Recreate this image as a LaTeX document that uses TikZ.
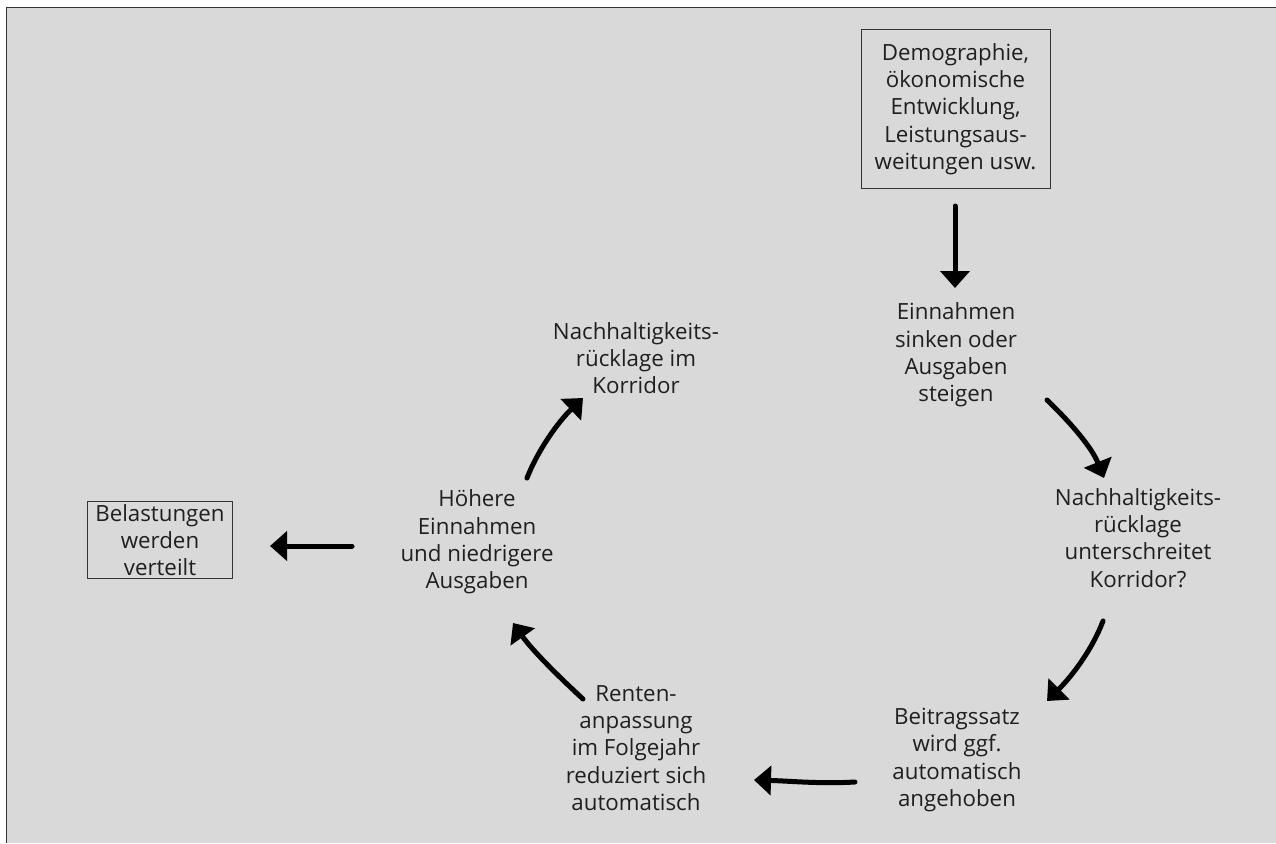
\documentclass[tikz,border=0pt]{standalone}
\usepackage{fontspec}
\setmainfont{Open Sans}
\usetikzlibrary{arrows.meta}
\definecolor{bggray}{HTML}{D9D9D9}
\definecolor{framegray}{HTML}{333333}
\tikzset{
  txt/.style={align=center, inner sep=0pt, font=\fontsize{22.3}{27.3}\selectfont, text=black!88},
  boxed/.style={txt, draw=black!80, line width=1pt},
  flow/.style={line width=5pt, line cap=round, -{Triangle[length=17pt,width=29pt]}},
}
\begin{document}
\begin{tikzpicture}[x=1pt,y=-1pt]
\useasboundingbox (0,0) rectangle (1276,843);
\fill[bggray] (6.5,7.5) rectangle (1276,843);
\draw[framegray, line width=1.6pt] (6.5,843) -- (6.5,7.5) -- (1276,7.5);
% nodes
\node[boxed, minimum width=189pt, minimum height=158pt] (demo) at (955.5,109) {Demographie,\\ökonomische\\Entwicklung,\\Leistungsaus-\\weitungen usw.};
\node[txt] (einn) at (956,355) {Einnahmen\\sinken oder\\Ausgaben\\steigen};
\node[txt] (unter) at (1138,538) {Nachhaltigkeits-\\rücklage\\unterschreitet\\Korridor?};
\node[txt] (beitrag) at (957,760) {Beitragssatz\\wird ggf.\\automatisch\\angehoben};
\node[txt] (rente) at (636,748) {Renten-\\anpassung\\im Folgejahr\\reduziert sich\\automatisch};
\node[txt] (hoeher) at (477,542) {Höhere\\Einnahmen\\und niedrigere\\Ausgaben};
\node[txt] (korr) at (636,358) {Nachhaltigkeits-\\rücklage im\\Korridor};
\node[boxed, inner xsep=8pt, minimum height=77pt] (belast) at (160,540) {Belastungen\\werden\\verteilt};
% arrow end points
\coordinate (a1s) at (955,206);
\coordinate (a1e) at (955,288);
\coordinate (a2s) at (1047,400);
\coordinate (a2e) at (1104,478);
\coordinate (a3s) at (1103,621);
\coordinate (a3e) at (1047,701);
\coordinate (a4s) at (855,782);
\coordinate (a4e) at (754,780);
\coordinate (a5s) at (583,699);
\coordinate (a5e) at (513,623);
\coordinate (a6s) at (527,478);
\coordinate (a6e) at (583,398);
\coordinate (a7s) at (352,546);
\coordinate (a7e) at (270,546);
% connectors
\draw[flow] (a1s) -- (a1e);
\draw[flow] (a2s) .. controls (1072,424) and (1092,448) .. (a2e);
\draw[flow] (a3s) .. controls (1092,650) and (1072,676) .. (a3e);
\draw[flow] (a4s) .. controls (820,784) and (790,781) .. (a4e);
\draw[flow] (a5s) .. controls (558,676) and (532,650) .. (a5e);
\draw[flow] (a6s) .. controls (538,450) and (558,422) .. (a6e);
\draw[flow] (a7s) -- (a7e);
\end{tikzpicture}
\end{document}
